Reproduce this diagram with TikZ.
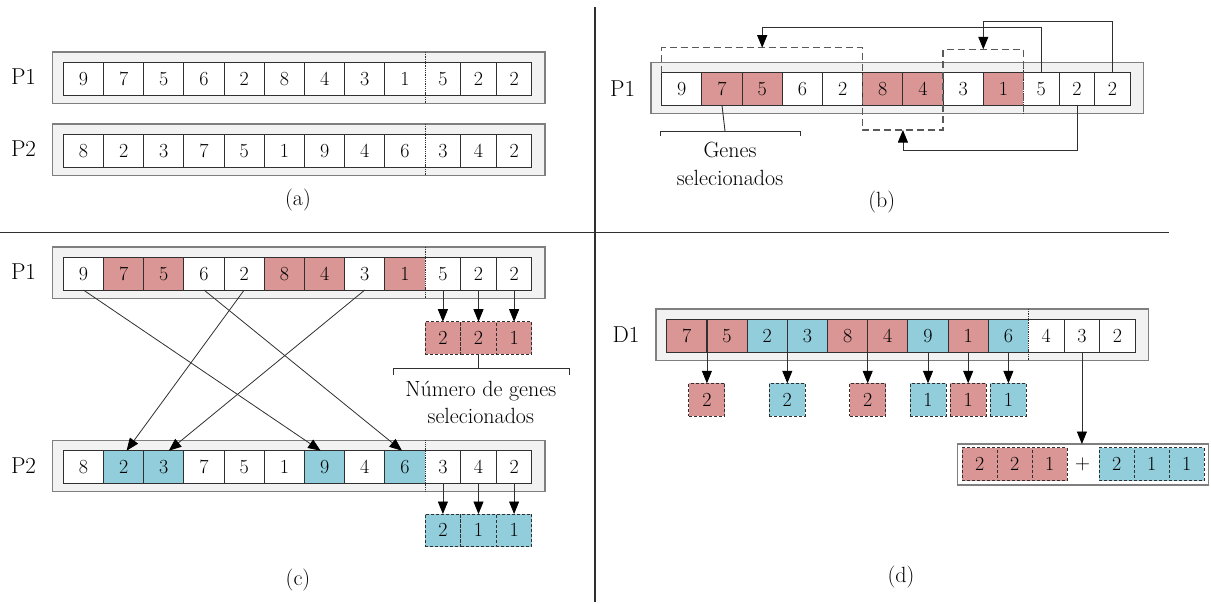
\documentclass[tikz,border=0pt]{standalone}
\usepackage{fontspec}
\usetikzlibrary{arrows.meta,calc}

\definecolor{genered}{HTML}{D99694}
\definecolor{geneblue}{HTML}{92CDDC}
\definecolor{panelgray}{HTML}{F2F2F2}
\definecolor{rimgray}{HTML}{7F7F7F}
\definecolor{ink}{HTML}{303030}

% slightly heavier strokes for all labels
\newcommand\inkier{\addfontfeature{FakeBold=0.6}}
\newcommand\digitfont{\fontsize{20}{22}\selectfont\inkier}
\newcommand\labelfont{\fontsize{22}{25}\selectfont\inkier}

\tikzset{
  chromframe/.style={draw=rimgray, fill=panelgray, line width=1.3pt},
  cell/.style={draw=ink, line width=0.9pt, inner sep=0pt, outer sep=0pt,
    minimum height=32.7pt, anchor=north west, font=\digitfont},
  tagtext/.style={font=\fontsize{23}{26}\selectfont\inkier, inner sep=0pt},
  captext/.style={font=\labelfont, inner sep=0pt},
  countbox/.style={draw=ink, dash pattern=on 3pt off 2pt, line width=1pt,
    inner sep=0pt, outer sep=0pt, minimum width=35.6pt, minimum height=32.7pt,
    font=\digitfont},
  arr/.style={draw=ink, line width=0.8pt, -{Triangle[length=12.5pt,width=10pt,color=black]}},
  link/.style={draw=ink, line width=0.9pt},
  groupline/.style={draw=ink!80, line width=1.3pt, dash pattern=on 7pt off 4pt},
  sepline/.style={draw=ink, line width=0.8pt, densely dotted},
  divider/.style={draw=ink, line width=1.2pt},
}

% a chromosome strip: name prefix, inner left x, inner top y, genes value/fill
\newcommand\genestrip[4]{%
  \draw[chromframe] (#2-10.7,#3-10.3) rectangle (#2+481.8,#3+41);
  \foreach \v/\f [count=\i] in {#4} {
    \pgfmathsetmacro\xl{\i<10 ? #2+40.2*(\i-1) : #2+361.8+35.6*(\i-10)}
    \pgfmathsetmacro\cw{\i<10 ? 40.2 : 35.6}
    \node[cell, fill=\f, minimum width=\cw pt] (#1\i) at (\xl,#3) {\v};
  }
  \draw[white, line width=1.1pt] (#2+361.8,#3+0.6) -- (#2+361.8,#3+32.1);
  \draw[sepline] (#2+361.8,#3-10.3) -- (#2+361.8,#3+41);
}

\begin{document}
\begin{tikzpicture}[x=1pt,y=-1pt]
\useasboundingbox (0,0) rectangle (1211,603);

% frame lines between the four panels
\draw[divider] (0,232.3) -- (1169,232.3);
\draw[divider] (595,7) -- (595,602);

% ---------------- (a) ----------------
\node[tagtext] (aPl) at (23.5,76.7) {P1};
\genestrip{aP}{63.3}{62.3}{9/white,7/white,5/white,6/white,2/white,8/white,4/white,3/white,1/white,5/white,2/white,2/white}
\node[tagtext] (aQl) at (23.5,148.3) {P2};
\genestrip{aQ}{63.3}{134.3}{8/white,2/white,3/white,7/white,5/white,1/white,9/white,4/white,6/white,3/white,4/white,2/white}
\node[captext] (acap) at (298,200) {(a)};

% ---------------- (b) ----------------
\node[tagtext] (bPl) at (622.7,89) {P1};
\genestrip{bP}{661.7}{72.7}{9/white,7/genered,5/genered,6/white,2/white,8/genered,4/genered,3/white,1/genered,5/white,2/white,2/white}

% gene groups given by the last three genes
\draw[groupline] (bP1.north west) -- (bP1.north west |- 0,47.7)
  -- (bP6.north west |- 0,47.7) -- (bP6.north west |- 0,130)
  -- (bP8.north west |- 0,130) -- (bP8.north west |- 0,49.3)
  -- (bP10.north west |- 0,49.3) -- (bP10.north west |- 0,113.7);
\coordinate (g1) at (762.2,47.7);
\coordinate (g2) at (983.3,49.3);
\coordinate (g3) at (902.9,130);
\draw[arr] (bP10.north) -- (bP10.north |- 0,27.3) -| (g1);
\draw[arr] (bP12.north) -- (bP12.north |- 0,21) -| (g2);
\draw[arr] (bP11.south) -- (bP11.south |- 0,150.3) -| (g3);

\coordinate (gb) at (725,131);
\draw[link] (bP2.south) -- (gb);
\draw[link] (660,136) -- (660,131) -- (800,131) -- (800,136);
\node[captext, anchor=base] (gt1) at (730,157.3) {Genes};
\node[captext, anchor=base] (gt2) at (730,185) {selecionados};
\node[captext] (bcap) at (881.7,201.7) {(b)};

% ---------------- (c) ----------------
\node[tagtext] (cPl) at (23.5,271.7) {P1};
\genestrip{cP}{63.3}{257.3}{9/white,7/genered,5/genered,6/white,2/white,8/genered,4/genered,3/white,1/genered,5/white,2/white,2/white}
\node[tagtext] (cQl) at (23.5,465.7) {P2};
\genestrip{cQ}{63.3}{450.7}{8/white,2/geneblue,3/geneblue,7/white,5/white,1/white,9/geneblue,4/white,6/geneblue,3/white,4/white,2/white}

\draw[arr] (cP1.south) -- ([xshift=-4pt]cQ7.north);
\draw[arr] (cP4.south) -- ([xshift=-3pt]cQ9.north);
\draw[arr] (cP5.south) -- ([xshift=3pt]cQ2.north);
\draw[arr] (cP8.south) -- ([xshift=5pt]cQ3.north);

\node[countbox, fill=genered, anchor=north west] (cr1) at (cP10.south west |- 0,321.7) {2};
\node[countbox, fill=genered, anchor=north west] (cr2) at (cP11.south west |- 0,321.7) {2};
\node[countbox, fill=genered, anchor=north west] (cr3) at (cP12.south west |- 0,321.7) {1};
\draw[arr] (cP10.south) -- (cr1.north);
\draw[arr] (cP11.south) -- (cr2.north);
\draw[arr] (cP12.south) -- (cr3.north);

\coordinate (nb) at (cr2.south |- 0,368.3);
\draw[link] (cr2.south) -- (nb);
\draw[link] (393,375) -- (393,368.3) -- (569,368.3) -- (569,375);
\node[captext, anchor=base] (nt1) at (480.8,396) {Número de genes};
\node[captext, anchor=base] (nt2) at (480.8,423.3) {selecionados};

\node[countbox, fill=geneblue, anchor=north west] (cb1) at (cQ10.south west |- 0,514) {2};
\node[countbox, fill=geneblue, anchor=north west] (cb2) at (cQ11.south west |- 0,514) {1};
\node[countbox, fill=geneblue, anchor=north west] (cb3) at (cQ12.south west |- 0,514) {1};
\draw[arr] (cQ10.south) -- (cb1.north);
\draw[arr] (cQ11.south) -- (cb2.north);
\draw[arr] (cQ12.south) -- (cb3.north);
\node[captext] (ccap) at (298,580) {(c)};

% ---------------- (d) ----------------
\node[tagtext] (dDl) at (626,334.7) {D1};
\genestrip{dD}{666.7}{319.3}{7/genered,5/genered,2/geneblue,3/geneblue,8/genered,4/genered,9/geneblue,1/genered,6/geneblue,4/white,3/white,2/white}

\node[countbox, fill=genered, minimum width=36pt, anchor=north] (dk1) at (dD1.north east |- 0,383.3) {2};
\node[countbox, fill=geneblue, minimum width=36pt, anchor=north] (dk2) at (dD3.north east |- 0,383.3) {2};
\node[countbox, fill=genered, minimum width=36pt, anchor=north] (dk3) at (dD5.north east |- 0,383.3) {2};
\node[countbox, fill=geneblue, minimum width=36pt, anchor=north] (dk4) at (dD7.south |- 0,383.3) {1};
\node[countbox, fill=genered, minimum width=36pt, anchor=north] (dk5) at (dD8.south |- 0,383.3) {1};
\node[countbox, fill=geneblue, minimum width=36pt, anchor=north] (dk6) at (dD9.south |- 0,383.3) {1};
\draw[arr] (dD1.north east) -- (dk1.north);
\draw[arr] (dD3.north east) -- (dk2.north);
\draw[arr] (dD5.north east) -- (dk3.north);
\draw[arr] (dD7.south) -- (dk4.north);
\draw[arr] (dD8.south) -- (dk5.north);
\draw[arr] (dD9.south) -- (dk6.north);

\node[draw=rimgray, line width=1.2pt, fill=white, inner sep=0pt, outer sep=0pt,
  minimum width=250.6pt, minimum height=41pt, anchor=north west] (sum) at (957.7,444) {};
\node[countbox, fill=genered, minimum width=35pt, minimum height=33pt, anchor=north west] (s1) at (962.3,447.7) {2};
\node[countbox, fill=genered, minimum width=35pt, minimum height=33pt, anchor=north west] (s2) at (997.3,447.7) {2};
\node[countbox, fill=genered, minimum width=35pt, minimum height=33pt, anchor=north west] (s3) at (1032.3,447.7) {1};
\node[font=\fontsize{20}{22}\selectfont, inner sep=0pt] (splus) at (1082.7,464.2) {$+$};
\node[countbox, fill=geneblue, minimum width=35pt, minimum height=33pt, anchor=north west] (s4) at (1099.3,447.7) {2};
\node[countbox, fill=geneblue, minimum width=35pt, minimum height=33pt, anchor=north west] (s5) at (1134.3,447.7) {1};
\node[countbox, fill=geneblue, minimum width=35pt, minimum height=33pt, anchor=north west] (s6) at (1169.3,447.7) {1};
\draw[arr] (dD11.south) -- (dD11.south |- sum.north);
\node[captext] (dcap) at (901,577) {(d)};

\end{tikzpicture}
\end{document}
